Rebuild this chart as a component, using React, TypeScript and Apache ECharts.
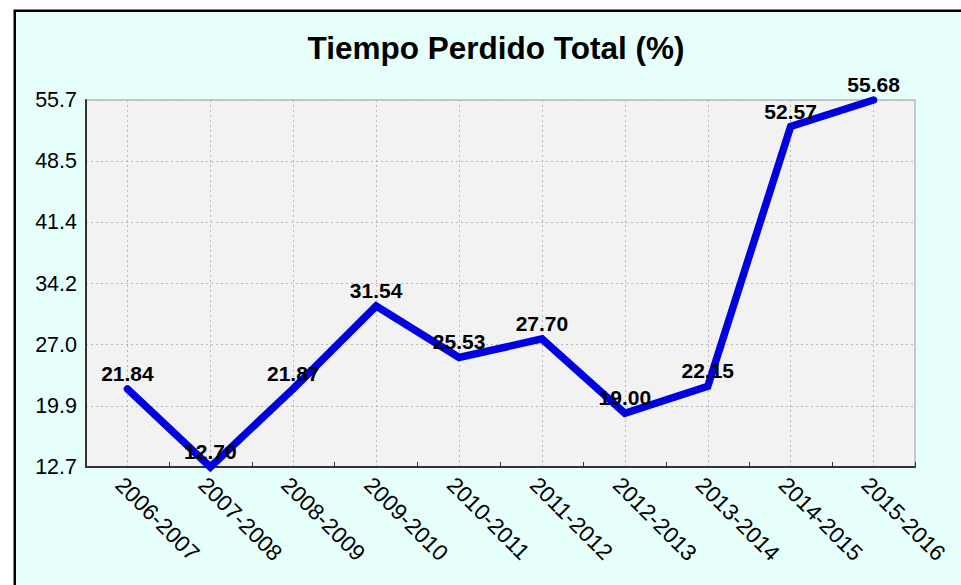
import React, { useEffect, useRef } from "react";
import * as echarts from "echarts";

const categories = [
  "2006-2007",
  "2007-2008",
  "2008-2009",
  "2009-2010",
  "2010-2011",
  "2011-2012",
  "2012-2013",
  "2013-2014",
  "2014-2015",
  "2015-2016",
];
const values = [21.84, 12.7, 21.87, 31.54, 25.53, 27.7, 19.0, 22.15, 52.57, 55.68];
const yMin = 12.7;
const yStep = 7.163;
const yMax = 55.678;
const title = "Tiempo Perdido Total (%)";

export default function App() {
  const ref = useRef<HTMLDivElement>(null);
  useEffect(() => {
    if (!ref.current) return;
    const chart = echarts.init(ref.current, undefined, { renderer: "svg" });
    chart.setOption({
      animation: false,
      backgroundColor: "#ffffff",
      textStyle: { fontFamily: "Arial, 'Liberation Sans', sans-serif" },
      graphic: {
        elements: [
          {
            type: "rect",
            z: -100,
            silent: true,
            shape: { x: 14.75, y: 10.75, width: 1000, height: 700 },
            style: { fill: "#e6fffa", stroke: "#000000", lineWidth: 2.5 },
          },
        ],
      },
      title: {
        text: title,
        left: 491,
        top: 27,
        textAlign: "center",
        textStyle: {
          fontSize: 31.5,
          fontWeight: "bold",
          color: "#000",
          fontFamily: "Arial, 'Liberation Sans', sans-serif",
        },
      },
      grid: {
        left: 86,
        right: 46,
        top: 100,
        bottom: 118,
        show: true,
        backgroundColor: "#f2f2f2",
        borderColor: "#999999",
        borderWidth: 1,
        containLabel: false,
      },
      xAxis: {
        type: "category",
        data: categories,
        boundaryGap: true,
        axisLine: { show: true, lineStyle: { color: "#333", width: 2 } },
        axisTick: { show: true, inside: true, length: 5, lineStyle: { color: "#333", width: 1 } },
        axisLabel: {
          rotate: -45,
          margin: 6,
          fontSize: 22.5,
          color: "#000",
          interval: 0,
          verticalAlign: "top",
        },
        splitLine: {
          show: true,
          alignWithLabel: true,
          lineStyle: { color: "#b8b8b8", type: [2, 3], width: 1 },
        },
      },
      yAxis: {
        type: "value",
        min: yMin,
        max: yMax,
        interval: yStep,
        axisLine: { show: true, lineStyle: { color: "#333", width: 2 } },
        axisTick: { show: false },
        axisLabel: {
          fontSize: 21.5,
          color: "#000",
          margin: 9,
          formatter: (v: number) => v.toFixed(1),
        },
        splitLine: {
          show: true,
          lineStyle: { color: "#b8b8b8", type: [2, 3], width: 1 },
        },
      },
      series: [
        {
          type: "line",
          data: values,
          symbol: "circle",
          showSymbol: true,
          symbolSize: 2,
          itemStyle: { color: "#0000e0" },
          clip: false,
          lineStyle: { color: "#0000e0", width: 7.5, cap: "round", join: "miter" },
          label: {
            show: true,
            position: "top",
            distance: 4,
            fontSize: 21,
            fontWeight: "bold",
            color: "#000",
            formatter: (p: any) => Number(p.value).toFixed(2),
          },
        },
      ],
    });
    return () => chart.dispose();
  }, []);
  return (
    <div
      ref={ref}
      style={{ position: "fixed", left: 0, top: 0, width: 961, height: 585 }}
    />
  );
}
